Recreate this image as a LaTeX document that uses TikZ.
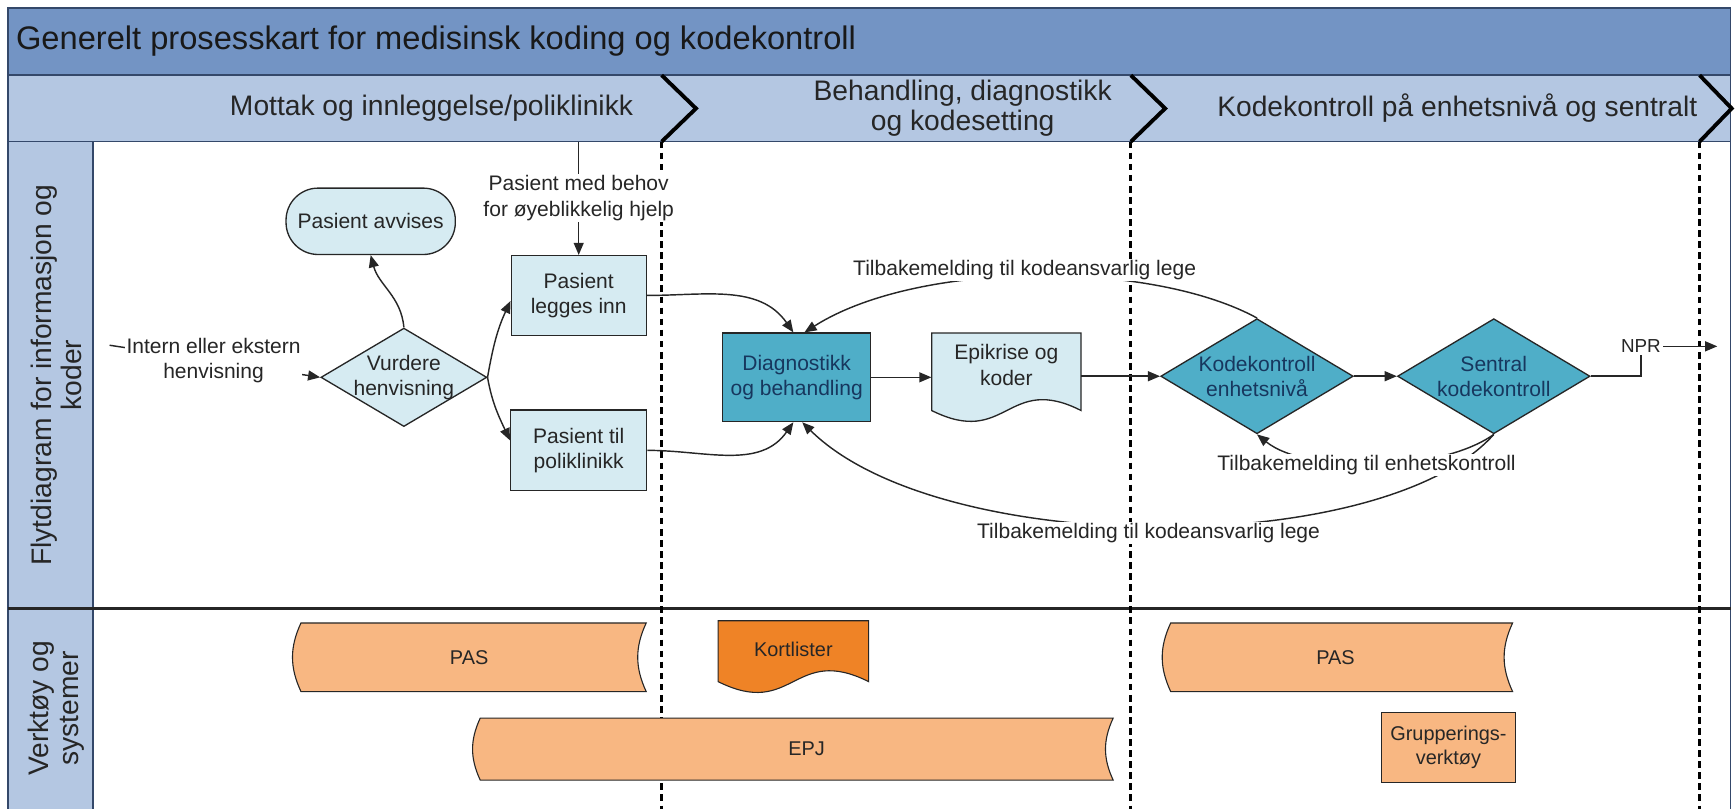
\documentclass[tikz,border=0pt]{standalone}
\usepackage{fontspec}
\setmainfont{Liberation Sans}
\usepackage{tikz}
\usetikzlibrary{shapes.geometric,arrows.meta}

\definecolor{tittelbla}{HTML}{7394C4}
\definecolor{fasebla}{HTML}{B4C7E2}
\definecolor{lysbla}{HTML}{D6EBF2}
\definecolor{morkbla}{HTML}{4FAEC8}
\definecolor{lysoransje}{HTML}{F8B782}
\definecolor{oransje}{HTML}{EF8326}
\definecolor{ramme}{HTML}{34486A}
\definecolor{strek}{HTML}{262626}
\definecolor{morktekst}{HTML}{17375E}

\tikzset{
  pil/.style={draw=strek, line width=1.3pt, -{Triangle[length=11pt,width=9pt]}},
  linje/.style={draw=strek, line width=1.3pt},
  tekst/.style={font=\fontsize{19}{23}\selectfont, align=center, text=black!85},
  etikett/.style={tekst, fill=white, inner sep=1pt},
  boks/.style={tekst, draw=strek, line width=1.2pt, fill=lysbla, inner sep=0pt},
  terminal/.style={boks, rounded corners=29pt, minimum width=153pt, minimum height=60pt},
  ruter/.style={diamond, draw=strek, line width=1.2pt, fill=lysbla, inner sep=0pt},
  fase/.style={font=\fontsize{25.5}{27}\selectfont, align=center, text=black!85},
  felt/.style={fase, rotate=90},
  skille/.style={line width=2.8pt, dash pattern=on 6pt off 4pt},
  vinkel/.style={line width=3.5pt},
  lager/.style={draw=strek, line width=1pt, fill=lysoransje},
  verktoy/.style={font=\fontsize{18}{22}\selectfont, align=center, text=black!85}
}

\begin{document}
\begin{tikzpicture}[x=1pt,y=-1pt]
    \path[use as bounding box] (0,0) rectangle (1568,731);

    % Draw the frame, the title bar and the phase bar
    \fill[tittelbla] (7,7) rectangle (1564,68);
    \fill[fasebla] (7,68) rectangle (1564,128);
    \fill[fasebla] (7,128) rectangle (84,735);
    \draw[ramme, line width=1.5pt] (7,735) -- (7,7) -- (1564,7) -- (1564,735);
    \draw[ramme, line width=1.5pt] (7,68) -- (1564,68);
    \draw[ramme, line width=1.5pt] (7,128) -- (1564,128);
    \draw[ramme, line width=1.5pt] (84,128) -- (84,735);
    \draw[strek, line width=2.5pt] (7,550) -- (1564,550);

    \node[anchor=west, font=\fontsize{29.5}{34}\selectfont, text=black!90] (tittel) at (11,37) {Generelt prosesskart for medisinsk koding og kodekontroll};

    % Phases
    \node[fase] (fase1) at (390,98) {Mottak og innleggelse/poliklinikk};
    \node[fase] (fase2) at (870,98) {Behandling, diagnostikk\\og kodesetting};
    \node[fase] (fase3) at (1317,98) {Kodekontroll på enhetsnivå og sentralt};
    \draw[vinkel] (598,68) -- (629,98) -- (598,128);
    \draw[vinkel] (1022,68) -- (1053,98) -- (1022,128);
    \draw[vinkel] (1536,68) -- (1565,98) -- (1536,128);

    % Lanes
    \node[felt] (felt1) at (51,339) {Flytdiagram for informasjon og\\koder};
    \node[felt] (felt2) at (51,640) {Verktøy og\\systemer};

    % Dotted phase borders
    \draw[skille] (598,128) -- (598,735);
    \draw[skille] (1022,128) -- (1022,735);
    \draw[skille] (1536,128) -- (1536,735);

    % Flow chart
    \node[terminal] (avvis) at (335,200) {Pasient avvises};
    \node[ruter, minimum width=150pt, minimum height=89pt, label={[tekst]center:{Vurdere\\henvisning}}] (vurder) at (365,341) {};
    \node[boks, minimum width=122pt, minimum height=72pt] (inn) at (523,267) {Pasient\\legges inn};
    \node[boks, minimum width=123pt, minimum height=73pt] (poli) at (523,407) {Pasient til\\poliklinikk};
    \node[boks, fill=morkbla, text=morktekst, minimum width=134pt, minimum height=80pt] (diag) at (720,341) {Diagnostikk\\og behandling};

    \filldraw[draw=strek, line width=1.2pt, fill=lysbla] (842,301) -- (977,301) -- (977,371) .. controls (910,337) and (910,405) .. (842,371) -- cycle;
    \node[tekst, minimum width=135pt, minimum height=58pt, inner sep=0pt] (epi) at (909.5,330) {Epikrise og\\koder};

    \node[ruter, fill=morkbla, minimum width=174pt, minimum height=104pt, label={[tekst, text=morktekst]center:{Kodekontroll\\enhetsnivå}}] (kk) at (1136,340) {};
    \node[ruter, fill=morkbla, minimum width=174pt, minimum height=104pt, label={[tekst, text=morktekst]center:{Sentral\\kodekontroll}}] (sentral) at (1350,340) {};

    % Connectors
    \coordinate (henv0) at (99,312);
    \coordinate (akutt) at (523,128);
    \coordinate (nprut) at (1552,313);
    \draw[pil] (henv0) -- (vurder.west);
    \draw[pil] (akutt) -- (inn.north);
    \draw[pil] (vurder.north) to[out=95,in=-75] (avvis.south);
    \draw[pil] (vurder.east) to[out=80,in=245] ([yshift=-5pt]inn.west);
    \draw[pil] (vurder.east) to[out=-80,in=115] ([yshift=9pt]poli.west);
    \draw[pil] (inn.east) to[out=0,in=125] ([xshift=-3pt]diag.north);
    \draw[pil] (poli.east) to[out=0,in=-125] ([xshift=-3pt]diag.south);
    \draw[pil] (diag.east) -- (diag.east -| epi.west);
    \draw[pil] (epi.east |- kk.west) -- (kk.west);
    \draw[pil] (kk.east) -- (sentral.west);
    \draw[pil] (kk.north) .. controls (1040,235) and (830,235) .. ([xshift=7pt]diag.north);
    \draw[pil] (sentral.south) .. controls (1300,428) and (1180,428) .. (kk.south);
    \draw[pil] (sentral.south) .. controls (1250,505) and (850,505) .. ([xshift=5pt]diag.south);

    \node[etikett] (henv) at (193,326) {Intern eller ekstern\\henvisning};
    \node[etikett] (behov) at (523,179) {Pasient med behov\\for øyeblikkelig hjelp};
    \node[etikett] (tilbake1) at (926,244) {Tilbakemelding til kodeansvarlig lege};
    \node[etikett] (tilbake2) at (1235,420) {Tilbakemelding til enhetskontroll};
    \node[etikett] (tilbake3) at (1038,482) {Tilbakemelding til kodeansvarlig lege};
    \node[etikett, font=\fontsize{17}{20}\selectfont, inner sep=2pt] (npr) at (1483,313) {NPR};
    \draw[linje] (sentral.east) -| (npr.south);
    \draw[pil] (npr.east) -- (nprut);

    % Tools and systems
    \filldraw[lager] (272,563) -- (584,563) to[bend right=25] (584,625) -- (272,625) to[bend left=25] (272,563) -- cycle;
    \node[verktoy] (pas1) at (424,594) {PAS};
    \filldraw[lager] (434,649) -- (1006,649) to[bend right=25] (1006,705) -- (434,705) to[bend left=25] (434,649) -- cycle;
    \node[verktoy] (epj) at (729,677) {EPJ};
    \filldraw[lager] (1058,563) -- (1367,563) to[bend right=25] (1367,625) -- (1058,625) to[bend left=25] (1058,563) -- cycle;
    \node[verktoy] (pas2) at (1207,594) {PAS};
    \filldraw[draw=strek, line width=1pt, fill=oransje] (649,561) -- (785,561) -- (785,616) .. controls (717,582) and (717,650) .. (649,616) -- cycle;
    \node[verktoy] (kort) at (717,587) {Kortlister};
    \node[verktoy, draw=strek, line width=1pt, fill=lysoransje, minimum width=121pt, minimum height=63pt, inner sep=0pt] (grupp) at (1309,675.5) {Grupperings-\\verktøy};
\end{tikzpicture}
\end{document}
